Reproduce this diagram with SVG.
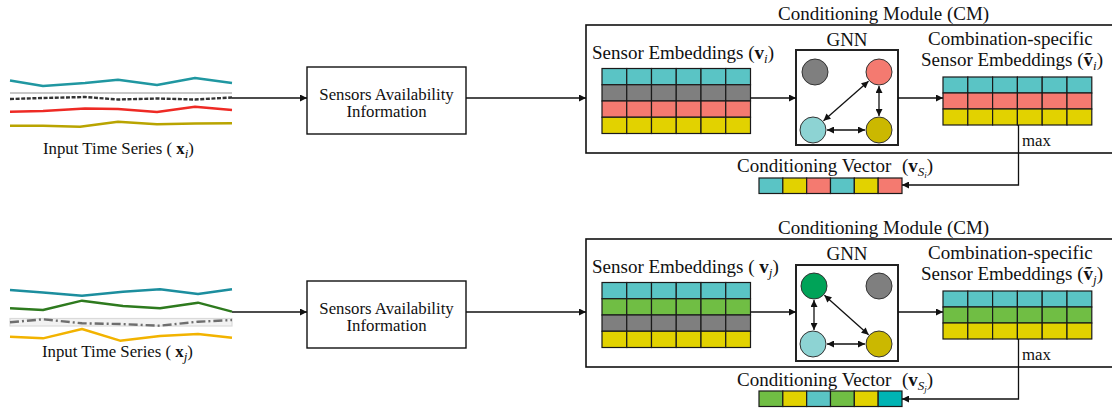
<svg xmlns="http://www.w3.org/2000/svg" width="1112" height="418" viewBox="0 0 1112 418">
<style>
text{font-family:"Liberation Serif","Times New Roman",serif;fill:#111}
.t19{font-size:19px}
.t17{font-size:16.8px}
.b{font-weight:bold}
.sub{font-size:13px;font-style:italic}
.box{fill:#fff;stroke:#111;stroke-width:1.4}
.cm{fill:none;stroke:#111;stroke-width:1.6}
.gnn{fill:#fff;stroke:#222;stroke-width:2}
.c{stroke:#1a1a1a;stroke-width:1.2}
.teal{fill:#5AC4C5}.gray{fill:#7F7F7F}.sal{fill:#F47A70}.yel{fill:#E2D200}.grn{fill:#70BE44}.dteal{fill:#00B4B4}
.node{stroke:#333;stroke-width:1}
.ln{fill:none;stroke:#111;stroke-width:1.3}
.ts{fill:none;stroke-width:2.4;stroke-linejoin:round}
</style>
<defs>
<marker id="ah" viewBox="0 0 10 10" refX="10" refY="5" markerWidth="9" markerHeight="7" markerUnits="userSpaceOnUse" orient="auto-start-reverse">
<path d="M0,0 L10,5 L0,10 z" fill="#111"/>
</marker>
</defs>

<!-- Top time series -->
<g id="timeseries-i">
<polyline class="ts" stroke="#2097A1" points="10,80.5 43,86 85,83 118,79.7 157,85 195,78 232,83"/>
<line x1="10" y1="93" x2="232" y2="93" stroke="#C8C8C8" stroke-width="2"/>
<polyline class="ts" stroke="#333" stroke-dasharray="4 1.6" points="10,99 43,98 85,97 118,99.5 157,98.5 195,99.5 232,97.5"/>
<polyline class="ts" stroke="#EE2A24" points="10,111.7 43,111 85,108.5 118,109 157,112 195,106.7 232,110"/>
<polyline class="ts" stroke="#B9A400" points="10,125.7 43,125.7 80,126.7 118,121.7 157,124.3 195,123.5 232,123.3"/>
<text class="t17" x="43" y="154">Input Time Series (<tspan class="b"> x</tspan><tspan class="sub" dy="4">i</tspan><tspan dy="-4">)</tspan></text>
</g>

<g id="sensors-avail-i">
<rect class="box" x="307" y="67" width="159" height="67"/>
<text class="t17" x="386.5" y="99.5" text-anchor="middle">Sensors Availability</text>
<text class="t17" x="386.5" y="117" text-anchor="middle">Information</text>
</g>

<g id="cm-i">
<rect class="cm" x="586" y="25" width="540" height="128"/>
<text class="t19" x="778" y="20">Conditioning Module (CM)</text>
</g>

<g id="emb-i">
<text class="t19" x="592" y="59">Sensor Embeddings (<tspan class="b">v</tspan><tspan class="sub" dy="4">i</tspan><tspan dy="-4">)</tspan></text>
<g class="c teal">
<rect x="602" y="68.5" width="24.75" height="16.25"/><rect x="626.75" y="68.5" width="24.75" height="16.25"/><rect x="651.5" y="68.5" width="24.75" height="16.25"/><rect x="676.25" y="68.5" width="24.75" height="16.25"/><rect x="701" y="68.5" width="24.75" height="16.25"/><rect x="725.75" y="68.5" width="24.75" height="16.25"/>
</g>
<g class="c gray">
<rect x="602" y="84.75" width="24.75" height="16.25"/><rect x="626.75" y="84.75" width="24.75" height="16.25"/><rect x="651.5" y="84.75" width="24.75" height="16.25"/><rect x="676.25" y="84.75" width="24.75" height="16.25"/><rect x="701" y="84.75" width="24.75" height="16.25"/><rect x="725.75" y="84.75" width="24.75" height="16.25"/>
</g>
<g class="c sal">
<rect x="602" y="101" width="24.75" height="16.25"/><rect x="626.75" y="101" width="24.75" height="16.25"/><rect x="651.5" y="101" width="24.75" height="16.25"/><rect x="676.25" y="101" width="24.75" height="16.25"/><rect x="701" y="101" width="24.75" height="16.25"/><rect x="725.75" y="101" width="24.75" height="16.25"/>
</g>
<g class="c yel">
<rect x="602" y="117.25" width="24.75" height="16.25"/><rect x="626.75" y="117.25" width="24.75" height="16.25"/><rect x="651.5" y="117.25" width="24.75" height="16.25"/><rect x="676.25" y="117.25" width="24.75" height="16.25"/><rect x="701" y="117.25" width="24.75" height="16.25"/><rect x="725.75" y="117.25" width="24.75" height="16.25"/>
</g>
</g>

<g id="gnn-i">
<text class="t19" x="847" y="46" text-anchor="middle">GNN</text>
<rect class="gnn" x="796" y="50" width="102" height="95"/>
<circle class="node gray" cx="815" cy="72" r="13"/>
<circle class="node sal" cx="879" cy="72" r="13"/>
<circle class="node" fill="#8DD3D3" cx="813" cy="130" r="13"/>
<circle class="node" fill="#CBB800" cx="879" cy="130" r="13"/>
</g>

<g id="comb-emb-i">
<text class="t19" x="928" y="45">Combination-specific</text>
<text class="t19" x="921" y="66">Sensor Embeddings (<tspan class="b">ṽ</tspan><tspan class="sub" dy="4">i</tspan><tspan dy="-4">)</tspan></text>
<g class="c teal">
<rect x="943" y="77" width="24.8" height="16"/><rect x="967.8" y="77" width="24.8" height="16"/><rect x="992.6" y="77" width="24.8" height="16"/><rect x="1017.4" y="77" width="24.8" height="16"/><rect x="1042.2" y="77" width="24.8" height="16"/><rect x="1067" y="77" width="24.8" height="16"/>
</g>
<g class="c sal">
<rect x="943" y="93" width="24.8" height="16"/><rect x="967.8" y="93" width="24.8" height="16"/><rect x="992.6" y="93" width="24.8" height="16"/><rect x="1017.4" y="93" width="24.8" height="16"/><rect x="1042.2" y="93" width="24.8" height="16"/><rect x="1067" y="93" width="24.8" height="16"/>
</g>
<g class="c yel">
<rect x="943" y="109" width="24.8" height="16"/><rect x="967.8" y="109" width="24.8" height="16"/><rect x="992.6" y="109" width="24.8" height="16"/><rect x="1017.4" y="109" width="24.8" height="16"/><rect x="1042.2" y="109" width="24.8" height="16"/><rect x="1067" y="109" width="24.8" height="16"/>
</g>
<text class="t17" x="1022" y="146">max</text>
</g>

<g id="cond-vec-i">
<text class="t19" x="737" y="172">Conditioning Vector<tspan x="902">(</tspan><tspan class="b">v</tspan><tspan class="sub" dy="4">S</tspan><tspan font-size="9" font-style="italic" dy="2">i</tspan><tspan dy="-6">)</tspan></text>
<rect class="c teal" x="759" y="178" width="23.83" height="15.5"/>
<rect class="c yel" x="782.83" y="178" width="23.83" height="15.5"/>
<rect class="c sal" x="806.67" y="178" width="23.83" height="15.5"/>
<rect class="c teal" x="830.5" y="178" width="23.83" height="15.5"/>
<rect class="c yel" x="854.33" y="178" width="23.83" height="15.5"/>
<rect class="c sal" x="878.17" y="178" width="23.83" height="15.5"/>
</g>

<!-- Bottom time series -->
<g id="timeseries-j">
<polyline class="ts" stroke="#1C8E9E" points="10,290 43,292.5 82,295.7 123,291.7 160,289.3 198,294 232,289.3"/>
<polyline class="ts" stroke="#2E7A1E" points="10,308.3 43,310 82,300.7 123,306 160,308.3 198,302.7 232,311.7"/>
<rect x="10" y="318.5" width="222" height="7.5" fill="#F2F2F2" stroke="#DADADA" stroke-width="1.2"/>
<polyline class="ts" stroke="#6E6E6E" stroke-dasharray="9 3 2 3" points="10,322.3 43,319.3 82,323.3 120,324 160,325.7 198,321.7 232,320"/>
<polyline class="ts" stroke="#F2B300" points="10,336.7 43,338.3 82,329 120,340.7 160,336 198,334 232,337.7"/>
<text class="t17" x="42" y="357">Input Time Series (<tspan class="b"> x</tspan><tspan class="sub" dy="4">j</tspan><tspan dy="-4">)</tspan></text>
</g>

<g id="sensors-avail-j">
<rect class="box" x="307" y="281" width="159" height="67"/>
<text class="t17" x="386.5" y="313.5" text-anchor="middle">Sensors Availability</text>
<text class="t17" x="386.5" y="331" text-anchor="middle">Information</text>
</g>

<g id="cm-j">
<rect class="cm" x="586" y="239" width="540" height="128"/>
<text class="t19" x="778" y="234">Conditioning Module (CM)</text>
</g>

<g id="emb-j">
<text class="t19" x="592" y="273">Sensor Embeddings ( <tspan class="b">v</tspan><tspan class="sub" dy="4">j</tspan><tspan dy="-4">)</tspan></text>
<g class="c teal">
<rect x="602" y="282.5" width="24.75" height="16.25"/><rect x="626.75" y="282.5" width="24.75" height="16.25"/><rect x="651.5" y="282.5" width="24.75" height="16.25"/><rect x="676.25" y="282.5" width="24.75" height="16.25"/><rect x="701" y="282.5" width="24.75" height="16.25"/><rect x="725.75" y="282.5" width="24.75" height="16.25"/>
</g>
<g class="c grn">
<rect x="602" y="298.75" width="24.75" height="16.25"/><rect x="626.75" y="298.75" width="24.75" height="16.25"/><rect x="651.5" y="298.75" width="24.75" height="16.25"/><rect x="676.25" y="298.75" width="24.75" height="16.25"/><rect x="701" y="298.75" width="24.75" height="16.25"/><rect x="725.75" y="298.75" width="24.75" height="16.25"/>
</g>
<g class="c gray">
<rect x="602" y="315" width="24.75" height="16.25"/><rect x="626.75" y="315" width="24.75" height="16.25"/><rect x="651.5" y="315" width="24.75" height="16.25"/><rect x="676.25" y="315" width="24.75" height="16.25"/><rect x="701" y="315" width="24.75" height="16.25"/><rect x="725.75" y="315" width="24.75" height="16.25"/>
</g>
<g class="c yel">
<rect x="602" y="331.25" width="24.75" height="16.25"/><rect x="626.75" y="331.25" width="24.75" height="16.25"/><rect x="651.5" y="331.25" width="24.75" height="16.25"/><rect x="676.25" y="331.25" width="24.75" height="16.25"/><rect x="701" y="331.25" width="24.75" height="16.25"/><rect x="725.75" y="331.25" width="24.75" height="16.25"/>
</g>
</g>

<g id="gnn-j">
<text class="t19" x="847" y="260" text-anchor="middle">GNN</text>
<rect class="gnn" x="796" y="265" width="102" height="96"/>
<circle class="node" fill="#00A358" cx="814" cy="286" r="13"/>
<circle class="node gray" cx="879" cy="286" r="13"/>
<circle class="node" fill="#8DD3D3" cx="813" cy="344" r="13"/>
<circle class="node" fill="#CBB800" cx="879" cy="344" r="13"/>
</g>

<g id="comb-emb-j">
<text class="t19" x="928" y="259">Combination-specific</text>
<text class="t19" x="921" y="280">Sensor Embeddings (<tspan class="b">ṽ</tspan><tspan class="sub" dy="4">j</tspan><tspan dy="-4">)</tspan></text>
<g class="c teal">
<rect x="943" y="291" width="24.8" height="16"/><rect x="967.8" y="291" width="24.8" height="16"/><rect x="992.6" y="291" width="24.8" height="16"/><rect x="1017.4" y="291" width="24.8" height="16"/><rect x="1042.2" y="291" width="24.8" height="16"/><rect x="1067" y="291" width="24.8" height="16"/>
</g>
<g class="c grn">
<rect x="943" y="307" width="24.8" height="16"/><rect x="967.8" y="307" width="24.8" height="16"/><rect x="992.6" y="307" width="24.8" height="16"/><rect x="1017.4" y="307" width="24.8" height="16"/><rect x="1042.2" y="307" width="24.8" height="16"/><rect x="1067" y="307" width="24.8" height="16"/>
</g>
<g class="c yel">
<rect x="943" y="323" width="24.8" height="16"/><rect x="967.8" y="323" width="24.8" height="16"/><rect x="992.6" y="323" width="24.8" height="16"/><rect x="1017.4" y="323" width="24.8" height="16"/><rect x="1042.2" y="323" width="24.8" height="16"/><rect x="1067" y="323" width="24.8" height="16"/>
</g>
<text class="t17" x="1022" y="360">max</text>
</g>

<g id="cond-vec-j">
<text class="t19" x="737" y="386">Conditioning Vector<tspan x="902">(</tspan><tspan class="b">v</tspan><tspan class="sub" dy="4">S</tspan><tspan font-size="9" font-style="italic" dy="2">j</tspan><tspan dy="-6">)</tspan></text>
<rect class="c grn" x="759" y="391" width="23.83" height="15.5"/>
<rect class="c yel" x="782.83" y="391" width="23.83" height="15.5"/>
<rect class="c teal" x="806.67" y="391" width="23.83" height="15.5"/>
<rect class="c grn" x="830.5" y="391" width="23.83" height="15.5"/>
<rect class="c yel" x="854.33" y="391" width="23.83" height="15.5"/>
<rect class="c dteal" x="878.17" y="391" width="23.83" height="15.5"/>
</g>

<g id="connectors">
<line class="ln" x1="232" y1="98" x2="307" y2="98" marker-end="url(#ah)"/>
<line class="ln" x1="466" y1="98" x2="586" y2="98" marker-end="url(#ah)"/>
<line class="ln" x1="750.5" y1="98" x2="796" y2="98" marker-end="url(#ah)"/>
<line class="ln" x1="898" y1="98" x2="943" y2="98" marker-end="url(#ah)"/>
<polyline class="ln" points="1018.5,125 1018.5,185 902,185" marker-end="url(#ah)"/>
<line class="ln" x1="868.5" y1="81.2" x2="823.5" y2="120.8" marker-start="url(#ah)" marker-end="url(#ah)"/>
<line class="ln" x1="879" y1="86" x2="879" y2="116" marker-start="url(#ah)" marker-end="url(#ah)"/>
<line class="ln" x1="827" y1="130" x2="865" y2="130" marker-start="url(#ah)" marker-end="url(#ah)"/>

<line class="ln" x1="232" y1="312" x2="307" y2="312" marker-end="url(#ah)"/>
<line class="ln" x1="466" y1="312" x2="586" y2="312" marker-end="url(#ah)"/>
<line class="ln" x1="750.5" y1="312" x2="796" y2="312" marker-end="url(#ah)"/>
<line class="ln" x1="898" y1="312" x2="943" y2="312" marker-end="url(#ah)"/>
<polyline class="ln" points="1018.5,339 1018.5,399 902,399" marker-end="url(#ah)"/>
<line class="ln" x1="814" y1="300" x2="814" y2="330" marker-start="url(#ah)" marker-end="url(#ah)"/>
<line class="ln" x1="824.4" y1="295.3" x2="868.6" y2="334.7" marker-start="url(#ah)" marker-end="url(#ah)"/>
<line class="ln" x1="827" y1="344" x2="865" y2="344" marker-start="url(#ah)" marker-end="url(#ah)"/>
</g>
</svg>
